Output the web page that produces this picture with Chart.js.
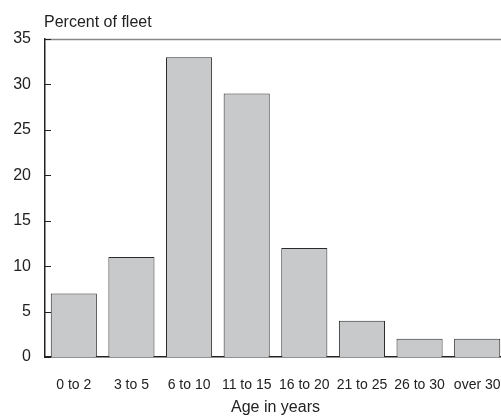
<!DOCTYPE html>
<html>
<head>
<meta charset="utf-8">
<script src="https://cdn.jsdelivr.net/npm/chart.js@4.4.0/dist/chart.umd.min.js"></script>
<style>
    html, body { margin: 0; padding: 0; background: #fff; overflow: hidden; }
    #wrap { width: 501px; height: 417px; overflow: hidden; }
</style>
</head>
<body>
<!-- canvas is a bit wider than the window: the original plot runs past the right edge -->
<div id="wrap"><canvas id="fleetChart" width="506" height="417"></canvas></div>
<script>
// Chart data
const ageGroups = ['0 to 2', '3 to 5', '6 to 10', '11 to 15', '16 to 20', '21 to 25', '26 to 30', 'over 30'];
const fleetPercent = [7, 11, 33, 29, 12, 4, 2, 2];
const yTicks = [0, 5, 10, 15, 20, 25, 30, 35];

const FONT = '"Liberation Sans Narrow", "Liberation Sans", Arial, sans-serif';

// Frame line on top, inward tick marks on left axis, and the y label
const framePlugin = {
    id: 'frame',
    afterDraw(chart) {
        const ctx = chart.ctx;
        const area = chart.chartArea;
        const y = chart.scales.y;
        ctx.save();
        ctx.strokeStyle = '#888';
        ctx.lineWidth = 1.5;
        ctx.beginPath();
        ctx.moveTo(area.left, area.top + 0.5);
        ctx.lineTo(chart.width, area.top + 0.5);
        ctx.stroke();

        ctx.strokeStyle = '#222';
        ctx.lineWidth = 1;
        yTicks.forEach(v => {
            const py = Math.round(y.getPixelForValue(v)) + 0.5;
            ctx.beginPath();
            ctx.moveTo(area.left, py);
            ctx.lineTo(area.left + 6, py);
            ctx.stroke();
        });

        ctx.fillStyle = '#222';
        ctx.font = '16px ' + FONT;
        ctx.textAlign = 'left';
        ctx.textBaseline = 'alphabetic';
        ctx.fillText('Percent of fleet', area.left - 1, 27);
        ctx.restore();
    }
};

const ctx = document.getElementById('fleetChart').getContext('2d');
const fleetChart = new Chart(ctx, {
    type: 'bar',
    data: {
        labels: ageGroups,
        datasets: [{
            data: fleetPercent,
            backgroundColor: '#c8c9cb',
            borderColor: '#2a2a2a',
            borderWidth: 1,
            barPercentage: 0.8,
            categoryPercentage: 1
        }]
    },
    options: {
        responsive: false,
        animation: false,
        layout: { padding: { top: 39, right: 0, left: 0, bottom: 0 } },
        scales: {
            y: {
                min: 0,
                max: 35,
                afterFit(scale) {
                    scale.width = 45;
                    scale.paddingTop = 0;
                    scale.paddingBottom = 0;
                },
                afterBuildTicks(scale) { scale.ticks = yTicks.map(v => ({ value: v })); },
                grid: { display: false },
                border: { display: true, color: '#222', width: 1.5 },
                ticks: {
                    color: '#222',
                    padding: 6,
                    font: { family: FONT, size: 16 }
                }
            },
            x: {
                afterFit(scale) {
                    scale.height = 60;
                    scale.paddingLeft = 0;
                    scale.paddingRight = 0;
                },
                grid: { display: false },
                border: { display: true, color: '#222', width: 1.5 },
                ticks: {
                    color: '#222',
                    padding: 12,
                    maxRotation: 0,
                    autoSkip: false,
                    font: { family: FONT, size: 14 }
                },
                title: {
                    display: true,
                    text: 'Age in years',
                    color: '#222',
                    padding: { top: 7, bottom: 0 },
                    font: { family: FONT, size: 16 }
                }
            }
        },
        plugins: {
            legend: { display: false },
            tooltip: { enabled: false }
        }
    },
    plugins: [framePlugin]
});
</script>
</body>
</html>
